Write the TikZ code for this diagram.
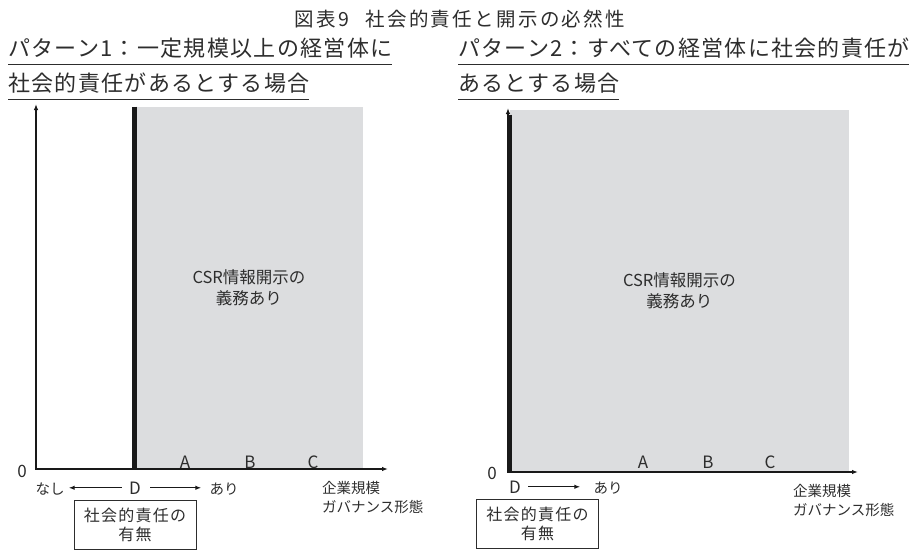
\documentclass[tikz,border=0pt]{standalone}
\usepackage{fontspec}
\setmainfont{Noto Sans CJK JP}
\newfontfamily\jphead[LetterSpace=6]{Noto Sans CJK JP}
\newfontfamily\jptitle[LetterSpace=12]{Noto Sans CJK JP}
\newfontfamily\jpkey[LetterSpace=8]{Noto Sans CJK JP}
\usetikzlibrary{arrows.meta}
\definecolor{shade}{RGB}{220,221,223}
\definecolor{ink}{RGB}{45,45,45}
\tikzset{
  titletext/.style={font=\jptitle\fontsize{19.5}{22}\selectfont, text=ink, inner sep=0, anchor=base},
  headtext/.style={font=\jphead\fontsize{22}{25}\selectfont, text=ink, inner sep=0, anchor=base west},
  uline/.style={draw=ink, line width=1pt},
  region/.style={fill=shade, inner sep=0, anchor=south west, align=center, font=\fontsize{16.5}{21}\selectfont, text=ink},
  thickline/.style={draw=black!90, line width=4.5pt},
  axis/.style={draw=black!90, line width=1.2pt, {Latex[length=6pt,width=4.5pt]}-{Latex[length=6pt,width=4.5pt]}},
  arr/.style={draw=black!90, line width=1.2pt, -{Latex[length=6pt,width=4.5pt]}},
  letter/.style={font=\fontsize{17}{20}\selectfont, inner sep=0, anchor=base, text=ink},
  smalltext/.style={font=\fontsize{14.5}{19}\selectfont, inner sep=0, text=ink},
  axislabel/.style={smalltext, anchor=north west, align=left},
  keybox/.style={draw=ink, line width=0.8pt, minimum width=122pt, minimum height=49pt, align=center, font=\jpkey\fontsize{16}{19}\selectfont, inner sep=0, text=ink}
}
\begin{document}
\begin{tikzpicture}[x=1pt,y=-1pt]
\useasboundingbox (0,0) rectangle (920,550);

% title
\node[titletext] (title) at (460,26) {図表9\hspace{16pt}社会的責任と開示の必然性};

% headings
\node[headtext] (h1a) at (8,56) {パターン1：一定規模以上の経営体に};
\node[headtext] (h1b) at (8,91) {社会的責任があるとする場合};
\node[headtext] (h2a) at (458,56) {パターン2：すべての経営体に社会的責任が};
\node[headtext] (h2b) at (458,91) {あるとする場合};
\foreach \h in {h1a,h1b,h2a,h2b}{
  \draw[uline] ([yshift=-8pt]\h.base west) -- ([yshift=-8pt,xshift=-1pt]\h.base east);
}

% ===== Pattern 1 =====
\node[region, minimum width=228.5pt, minimum height=362pt] (Lreg) at (134.5,469) {CSR情報開示の\\義務あり};
\draw[thickline] (Lreg.north west) -- (Lreg.south west);
\coordinate (Lo) at (36,469);
\coordinate (Ly) at (36,104);
\coordinate (Lx) at (388,469);
\draw[axis] (Ly) -- (Lo) -- (Lx);
\node[letter] (L0) at (22,477) {0};
\node[letter] (LA) at (185,468) {A};
\node[letter] (LB) at (250,468) {B};
\node[letter] (LC) at (313,468) {C};
\node[letter] (Ld) at (135,494) {D};
\node[smalltext, anchor=base] (Lnashi) at (50,494) {なし};
\node[smalltext, anchor=base] (Lari) at (224,494) {あり};
\draw[arr, shorten <=7pt, shorten >=4pt] (Ld.west) -- (Lnashi.east |- Ld.west);
\draw[arr, shorten <=9pt, shorten >=8pt] (Ld.east) -- (Lari.west |- Ld.east);
\node[axislabel] (Llab) at (322,481) {企業規模\\ガバナンス形態};
\node[keybox] (Lkey) at (135,524.5) {社会的責任の\\有無};

% ===== Pattern 2 =====
\node[region, minimum width=339.5pt, minimum height=362pt] (Rreg) at (509.5,472) {CSR情報開示の\\義務あり};
\draw[thickline] ([yshift=-5pt]Rreg.north west) -- (Rreg.south west);
\coordinate (Ro) at (508,472);
\coordinate (Ry) at (508,108);
\coordinate (Rx) at (858,472);
\draw[axis] (Ry) -- (Ro) -- (Rx);
\node[letter] (R0) at (492,479) {0};
\node[letter] (RA) at (643,468) {A};
\node[letter] (RB) at (708,468) {B};
\node[letter] (RC) at (770,468) {C};
\node[letter] (Rd) at (515,493) {D};
\node[smalltext, anchor=base] (Rari) at (608,493) {あり};
\draw[arr, shorten <=7pt, shorten >=13pt] (Rd.east) -- (Rari.west |- Rd.east);
\node[axislabel] (Rlab) at (793,484) {企業規模\\ガバナンス形態};
\node[keybox] (Rkey) at (537.5,523.5) {社会的責任の\\有無};
\end{tikzpicture}
\end{document}
